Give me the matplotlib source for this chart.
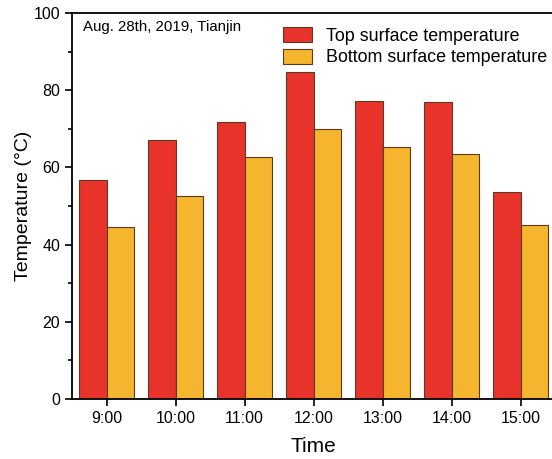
import numpy as np
import matplotlib.pyplot as plt
from matplotlib.ticker import MultipleLocator

# ============================================================
# 数据
# ============================================================
times = ["9:00", "10:00", "11:00", "12:00", "13:00", "14:00", "15:00"]
top_temp = [56.7, 67.1, 71.7, 84.7, 77.1, 76.9, 53.7]
bottom_temp = [44.5, 52.6, 62.8, 70.0, 65.3, 63.6, 45.2]

plt.rcParams['font.family'] = ['Liberation Sans', 'DejaVu Sans']

fig = plt.figure(figsize=(5.52, 4.59), dpi=100)
ax = fig.add_axes([72 / 552, 1 - 399 / 459, 483 / 552, 386 / 459])

x = np.arange(len(times))
w = 0.4
ax.bar(x - w / 2, top_temp, w, color="#E8332A", edgecolor="#5a3a20", linewidth=0.8,
       label="Top surface temperature")
ax.bar(x + w / 2, bottom_temp, w, color="#F5B52E", edgecolor="#5a3a20", linewidth=0.8,
       label="Bottom surface temperature")

ax.set_xlim(-0.5, len(times) - 0.5)
ax.set_ylim(0, 100)
ax.set_xticks(x)
ax.set_xticklabels(times)
ax.yaxis.set_major_locator(MultipleLocator(20))
ax.yaxis.set_minor_locator(MultipleLocator(10))
ax.tick_params(axis="both", which="major", labelsize=11.5, length=5, width=1.2, direction="out")
ax.tick_params(axis="y", which="minor", length=3, width=1.2)
for s in ["left", "bottom", "top"]:
    ax.spines[s].set_linewidth(1.3)
ax.spines["right"].set_visible(False)

ax.set_xlabel("Time", fontsize=15, labelpad=8)
ax.set_ylabel("Temperature (\u00b0C)", fontsize=14, labelpad=1)

ax.text(0.022, 0.982, "Aug. 28th, 2019, Tianjin", transform=ax.transAxes,
        fontsize=10.8, va="top", ha="left")

ax.legend(loc="upper left", bbox_to_anchor=(0.41, 0.995), frameon=False, fontsize=12.9,
          handlelength=1.65, handleheight=0.9, handletextpad=0.8, labelspacing=0.2,
          borderaxespad=0.3)

fig.savefig("out.png", dpi=100)
